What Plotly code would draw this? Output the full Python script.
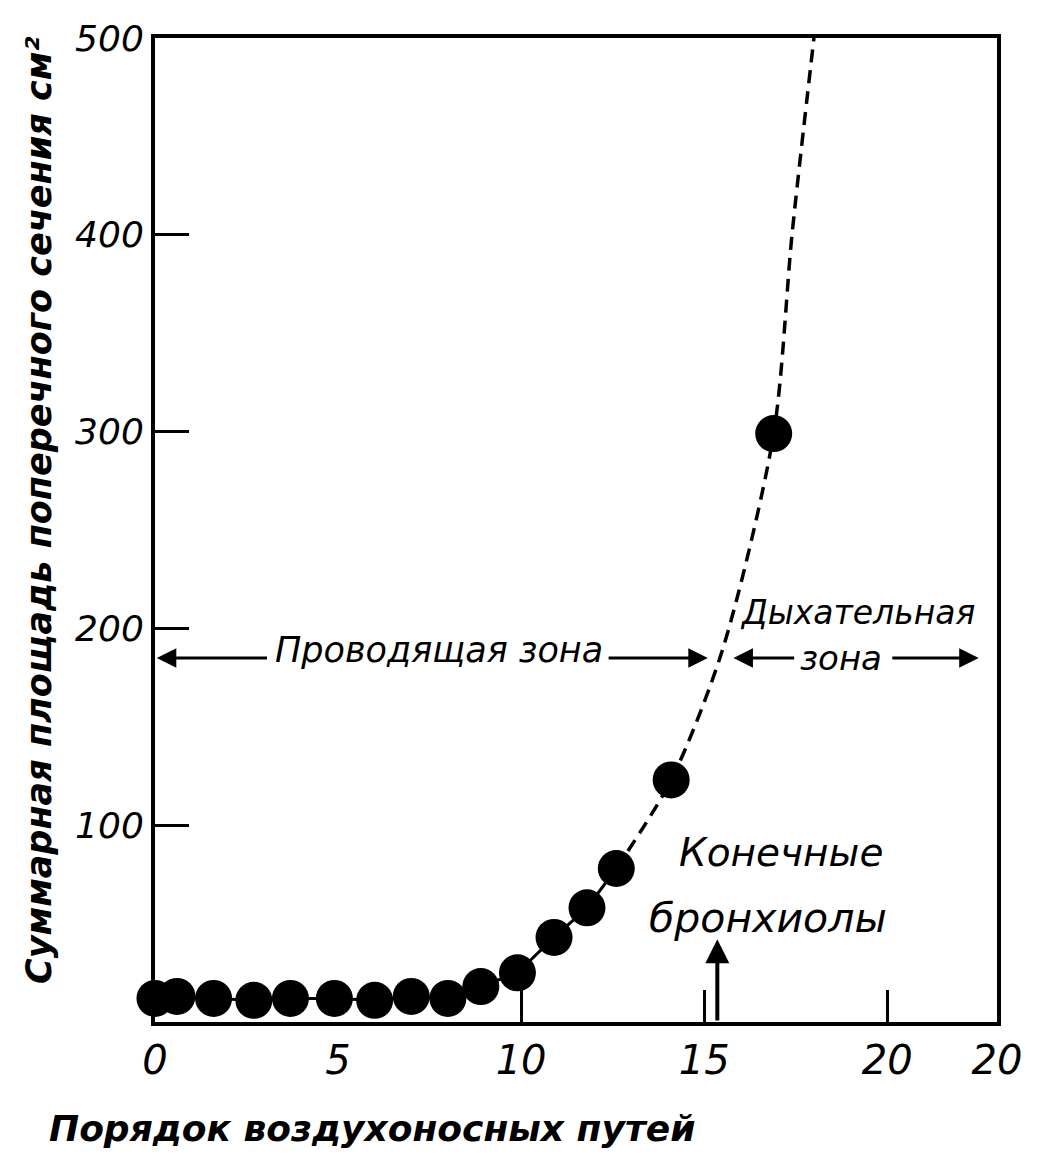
import plotly.graph_objects as go

# Data
generation = [0.0, 0.6, 1.6, 2.7, 3.7, 4.9, 6.0, 7.0, 8.0, 8.9, 9.9, 10.9, 11.8, 12.6, 14.1, 16.9]
total_area = [12, 13, 12, 11, 12, 12, 11, 13, 12, 18, 25, 43, 58, 78, 123, 299]

# dashed extrapolated curve
curve_gen = [12.6, 14.1, 15.5, 16.9, 17.4, 18.0]
curve_area = [78, 123, 189, 299, 400, 500]

x_tickvals = [0, 5, 10, 15, 20, 23]
x_ticktext = ["0", "5", "10", "15", "20", "20"]
x_minor_ticks = [10, 15, 20]
y_tickvals = [100, 200, 300, 400, 500]
y_ticktext = ["100", "200", "300", "400", "500"]

FONT = "DejaVu Sans"

fig = go.Figure()

# solid part of the line through measured points
n_solid = 14
fig.add_trace(go.Scatter(
    x=generation[:n_solid], y=total_area[:n_solid], mode="lines",
    line=dict(color="black", width=3), hoverinfo="skip", cliponaxis=False,
))
# dashed extrapolation
fig.add_trace(go.Scatter(
    x=curve_gen, y=curve_area, mode="lines",
    line=dict(color="black", width=3.5, dash="13px,8px", shape="spline", smoothing=0.8),
    hoverinfo="skip", cliponaxis=False,
))
# points
fig.add_trace(go.Scatter(
    x=generation, y=total_area, mode="markers",
    marker=dict(color="black", size=37, line=dict(width=0)),
    cliponaxis=False,
))

ann_font = dict(family=FONT, size=30, color="black", style="italic")
arrow = dict(xref="x", yref="y", axref="x", ayref="y", text="", showarrow=True,
             arrowhead=2, arrowsize=1.3, arrowwidth=3, arrowcolor="black")

annotations = [
    # Проводящая зона
    dict(x=7.75, y=189, text="Проводящая зона", showarrow=False, font=dict(ann_font, size=35)),
    dict(arrow, x=0.05, y=185, ax=3.1, ay=185),
    dict(arrow, x=15.1, y=185, ax=12.35, ay=185),
    # Дыхательная зона
    dict(x=19.2, y=208, text="Дыхательная", showarrow=False, font=dict(ann_font, size=33)),
    dict(x=18.75, y=185, text="зона", showarrow=False, font=dict(ann_font, size=34)),
    dict(arrow, x=15.8, y=185, ax=17.5, ay=185),
    dict(arrow, x=22.5, y=185, ax=20.1, ay=185),
    # Конечные бронхиолы
    dict(x=17.1, y=86, text="Конечные", showarrow=False, font=dict(ann_font, size=39)),
    dict(x=16.75, y=53, text="бронхиолы", showarrow=False, font=dict(ann_font, size=41)),
    dict(arrow, x=15.36, y=42, ax=15.36, ay=0, arrowsize=1.2, arrowwidth=4),
    # axis titles
    dict(x=-0.137, y=0.52, xref="paper", yref="paper", xanchor="center", yanchor="middle",
         textangle=-90, showarrow=False,
         text="Суммарная площадь поперечного сечения см²",
         font=dict(family=FONT, size=35, color="black", style="italic", weight="bold")),
    dict(x=0.258, y=-0.108, xref="paper", yref="paper", xanchor="center", yanchor="middle",
         showarrow=False,
         text="Порядок воздухоносных путей",
         font=dict(family=FONT, size=36, color="black", style="italic", weight="bold")),
]

fig.update_layout(
    width=1039, height=1167, autosize=False,
    margin=dict(l=155, r=42, t=38, b=145),
    paper_bgcolor="white", plot_bgcolor="white",
    showlegend=False,
    annotations=annotations,
    xaxis=dict(
        range=[0, 23], showgrid=False, zeroline=False,
        showline=True, linecolor="black", linewidth=4, mirror=True,
        tickmode="array", tickvals=x_tickvals, ticktext=x_ticktext, ticks="",
        tickfont=dict(family=FONT, size=40, color="black", style="italic"),
        minor=dict(tickmode="array", tickvals=x_minor_ticks, ticks="inside",
                   ticklen=32, tickwidth=3, tickcolor="black", showgrid=False),
    ),
    yaxis=dict(
        range=[0, 500], showgrid=False, zeroline=False,
        showline=True, linecolor="black", linewidth=4, mirror=True,
        tickmode="array", tickvals=y_tickvals, ticktext=y_ticktext,
        ticks="inside", ticklen=34, tickwidth=3, tickcolor="black",
        tickfont=dict(family=FONT, size=36, color="black", style="italic"),
    ),
)

fig.write_html("out.html")
